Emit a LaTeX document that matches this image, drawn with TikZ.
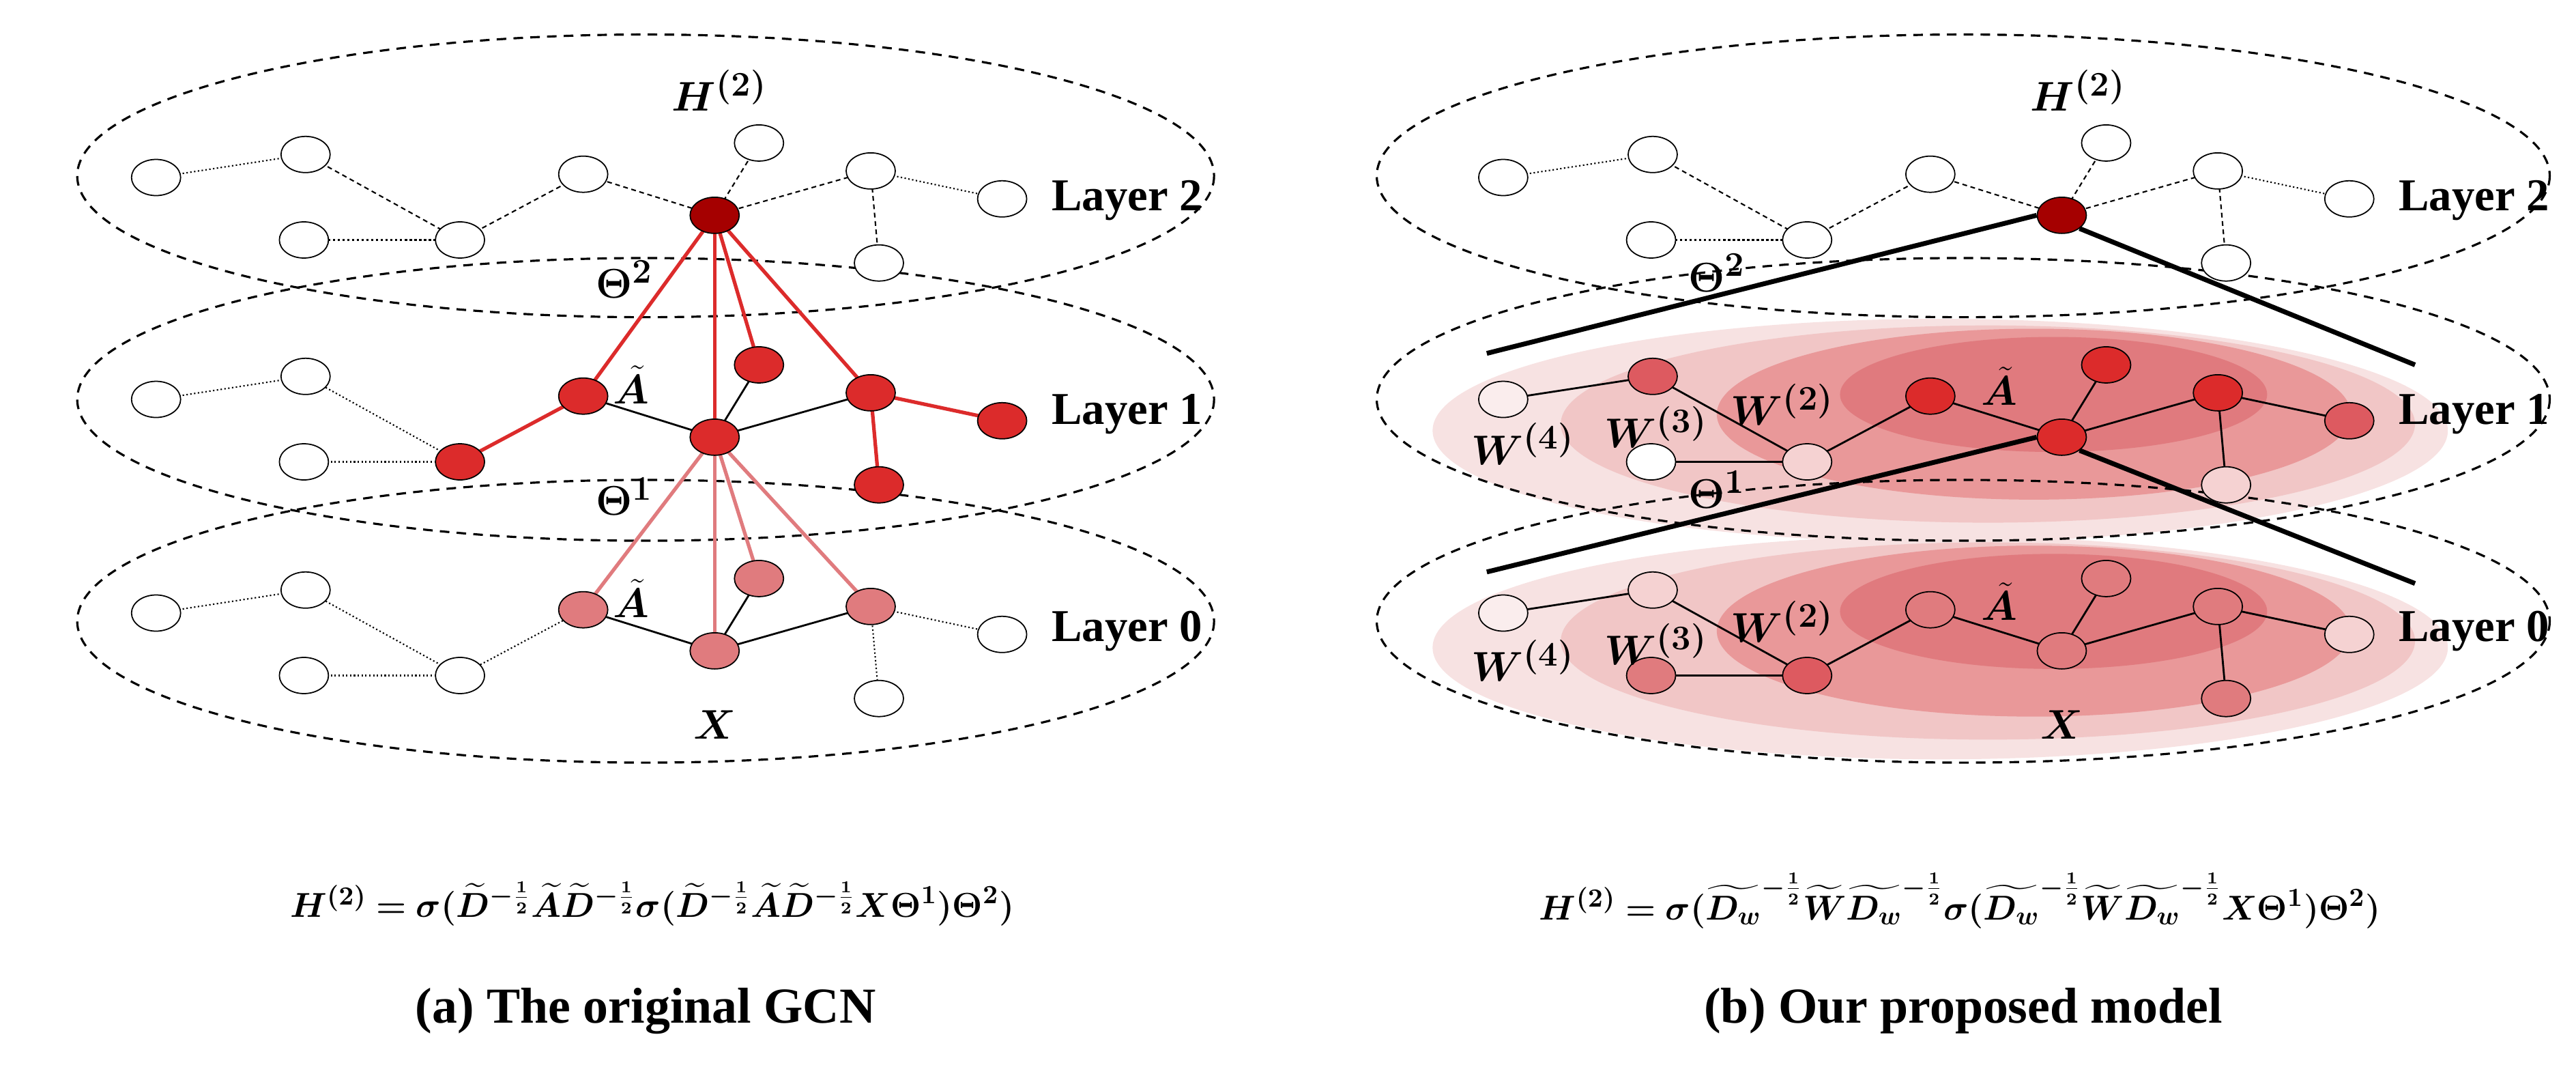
\documentclass[tikz,border=0pt]{standalone}
\usepackage{amsmath,bm}
\usepackage{fontspec}
\setmainfont{Liberation Serif}
\usetikzlibrary{shapes.geometric}
\definecolor{dred}{HTML}{A50000}
\definecolor{rred}{HTML}{DC2B2B}
\definecolor{pnk}{HTML}{E07B7E}
\definecolor{mred}{HTML}{DD5A60}
\definecolor{lpk}{HTML}{F5D2D2}
\definecolor{vlp}{HTML}{FAEDED}
\definecolor{s1}{HTML}{F7E2E2}
\definecolor{s2}{HTML}{F1C6C6}
\definecolor{s3}{HTML}{E99899}
\definecolor{s4}{HTML}{E07A7E}
\tikzset{
 nd/.style={draw,ellipse,minimum width=0.72cm,minimum height=0.53cm,inner sep=0pt,line width=0.5pt},
 dt/.style={densely dotted,line width=0.6pt},
 ds/.style={dash pattern=on 2pt off 1.5pt,line width=0.6pt},
 sl/.style={line width=0.8pt},
 lay/.style={dash pattern=on 4pt off 3pt,line width=0.9pt},
 lbl/.style={font=\bfseries\fontsize{21}{24}\selectfont},
 lyr/.style={font=\bfseries\fontsize{19}{22}\selectfont},
 ml/.style={font=\fontsize{19}{22}\selectfont},
 fm/.style={font=\fontsize{15}{18}\selectfont},
 redl/.style={draw=rred,line width=1.5pt},
 pnkl/.style={draw=pnk,line width=1.5pt},
 thk/.style={line width=2pt}
}
\begin{document}
\begin{tikzpicture}[x=0.024075cm,y=-0.024075cm]
\useasboundingbox (0,0) rectangle (1568,657);
% ---- right panel shading
\foreach \yo in {0,132}{
 \fill[s1] (1181,262+\yo) ellipse [x radius=309,y radius=68];
 \fill[s2] (1210,258+\yo) ellipse [x radius=260,y radius=60];
 \fill[s3] (1238,252+\yo) ellipse [x radius=193,y radius=52];
 \fill[s4] (1250,240+\yo) ellipse [x radius=130,y radius=35];
}
% ---- layer ellipses
\foreach \cx/\rx in {393/346,1195/357}{
 \foreach \cy in {107,243,378}{
  \draw[lay] (\cx,\cy) ellipse [x radius=\rx,y radius=86];
 }
}
% ---- node positions
\foreach \p/\xo/\yo in {La/0/0,Lb/0/135,Lc/0/265,Ra/820/0,Rb/820/135,Rc/820/265}{
 \foreach \n/\x/\y in {a/95/108,b/186/94,c/185/146,d/280/146,e/355/106,f/435/131,g/462/87,h/530/104,i/610/121,j/535/160}{
  \coordinate (\p\n) at (\x+\xo,\y+\yo);
 }
}
% edges left layer 2
\draw[dt] (Laa)--(Lab); \draw[ds] (Lab)--(Lad); \draw[dt,line width=1pt] (Lac)--(Lad);
\draw[ds] (Lad)--(Lae); \draw[ds] (Lae)--(Laf); \draw[ds] (Laf)--(Lag);
\draw[ds] (Laf)--(Lah); \draw[dt] (Lah)--(Lai); \draw[ds] (Lah)--(Laj);
% left layer 1
\draw[dt] (Lba)--(Lbb); \draw[dt] (Lbb)--(Lbd); \draw[dt] (Lbc)--(Lbd);
\draw[redl] (Lbd)--(Lbe); \draw[sl] (Lbe)--(Lbf); \draw[sl] (Lbf)--(Lbg);
\draw[sl] (Lbf)--(Lbh); \draw[redl] (Lbh)--(Lbi); \draw[redl] (Lbh)--(Lbj);
% left layer 0
\draw[dt] (Lca)--(Lcb); \draw[dt] (Lcb)--(Lcd); \draw[dt] (Lcc)--(Lcd);
\draw[dt] (Lcd)--(Lce); \draw[sl] (Lce)--(Lcf); \draw[sl] (Lcf)--(Lcg);
\draw[sl] (Lcf)--(Lch); \draw[dt] (Lch)--(Lci); \draw[dt] (Lch)--(Lcj);
% cross-layer left
\foreach \t in {e,f,g,h}{\draw[redl] (Laf)--(Lb\t); \draw[pnkl] (Lbf)--(Lc\t);}
% right layer 2
\draw[dt] (Raa)--(Rab); \draw[ds] (Rab)--(Rad); \draw[dt,line width=1pt] (Rac)--(Rad);
\draw[ds] (Rad)--(Rae); \draw[ds] (Rae)--(Raf); \draw[ds] (Raf)--(Rag);
\draw[ds] (Raf)--(Rah); \draw[dt] (Rah)--(Rai); \draw[ds] (Rah)--(Raj);
% right layers 1,0
\foreach \L in {Rb,Rc}{
 \draw[sl] (\L a)--(\L b); \draw[sl] (\L b)--(\L d); \draw[sl] (\L c)--(\L d);
 \draw[sl] (\L d)--(\L e); \draw[sl] (\L e)--(\L f); \draw[sl] (\L f)--(\L g);
 \draw[sl] (\L f)--(\L h); \draw[sl] (\L h)--(\L i); \draw[sl] (\L h)--(\L j);
}
% nodes drawn
\foreach \p/\cols in {
  La/{white,white,white,white,white,dred,white,white,white,white},
  Lb/{white,white,white,rred,rred,rred,rred,rred,rred,rred},
  Lc/{white,white,white,white,pnk,pnk,pnk,pnk,white,white},
  Ra/{white,white,white,white,white,dred,white,white,white,white},
  Rb/{vlp,mred,white,lpk,rred,rred,rred,rred,mred,lpk},
  Rc/{vlp,lpk,pnk,mred,pnk,pnk,pnk,pnk,lpk,pnk}}{
 \foreach \n/\c in {a/0,b/1,c/2,d/3,e/4,f/5,g/6,h/7,i/8,j/9}{
  \foreach \cc [count=\m from 0] in \cols {\ifnum\m=\c \node[nd,fill=\cc] (\p\n n) at (\p\n) {};\fi}
 }
}
% right thick lines
\coordinate (t2l) at (905,215); \coordinate (t2r) at (1470,222);
\coordinate (t1l) at (905,348); \coordinate (t1r) at (1470,355);
\draw[thk] (t2l)--(Rafn.west); \draw[thk] (Rafn.south east)--(t2r);
\draw[thk] (t1l)--(Rbfn.west); \draw[thk] (Rbfn.south east)--(t1r);
% labels left
\node[ml] (lh) at (438,55) {$\bm{H^{(2)}}$};
\node[ml] (lt2) at (380,170) {$\bm{\Theta^2}$};
\node[ml] (la1) at (384,234) {$\bm{\tilde{A}}$};
\node[ml] (lt1) at (380,302) {$\bm{\Theta^1}$};
\node[ml] (la0) at (384,364) {$\bm{\tilde{A}}$};
\node[ml] (lx) at (435,441) {$\bm{X}$};
\node[lyr] (ly2) at (686,122) {Layer 2};
\node[lyr] (ly1) at (686,252) {Layer 1};
\node[lyr] (ly0) at (686,384) {Layer 0};
% labels right
\node[ml] (rh) at (1265,55) {$\bm{H^{(2)}}$};
\node[ml] (rt2) at (1045,166) {$\bm{\Theta^2}$};
\node[ml] (rt1) at (1045,298) {$\bm{\Theta^1}$};
\node[ml] (ra1) at (1217,235) {$\bm{\tilde{A}}$};
\node[ml] (ra0) at (1217,366) {$\bm{\tilde{A}}$};
\node[ml] (rx) at (1255,441) {$\bm{X}$};
\foreach \yo/\s in {0/1,132/0}{
 \node[ml] (rw4\s) at (927,270+\yo) {$\bm{W^{(4)}}$};
 \node[ml] (rw3\s) at (1008,260+\yo) {$\bm{W^{(3)}}$};
 \node[ml] (rw2\s) at (1085,246+\yo) {$\bm{W^{(2)}}$};
}
\node[lyr] (ry2) at (1506,122) {Layer 2};
\node[lyr] (ry1) at (1506,252) {Layer 1};
\node[lyr] (ry0) at (1506,384) {Layer 0};
% formulas
\node[fm] (fl) at (397,550) {$\bm{H^{(2)}=\sigma(\widetilde{D}^{-\frac{1}{2}}\widetilde{A}\widetilde{D}^{-\frac{1}{2}}\sigma(\widetilde{D}^{-\frac{1}{2}}\widetilde{A}\widetilde{D}^{-\frac{1}{2}}X\Theta^1)\Theta^2)}$};
\node[fm] (fr) at (1193,548) {$\bm{H^{(2)}=\sigma(\widetilde{D_w}^{-\frac{1}{2}}\widetilde{W}\widetilde{D_w}^{-\frac{1}{2}}\sigma(\widetilde{D_w}^{-\frac{1}{2}}\widetilde{W}\widetilde{D_w}^{-\frac{1}{2}}X\Theta^1)\Theta^2)}$};
\node[lbl] (cl) at (393,615) {(a) The original GCN};
\node[lbl] (cr) at (1195,615) {(b) Our proposed model};
\end{tikzpicture}
\end{document}
